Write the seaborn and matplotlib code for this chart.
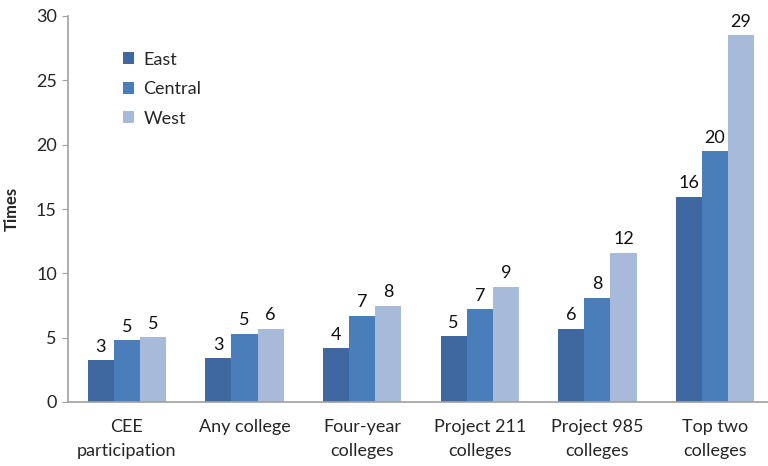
import numpy as np
import pandas as pd
import seaborn as sns
import matplotlib.pyplot as plt

# data
categories = ["CEE\nparticipation", "Any college", "Four-year\ncolleges",
              "Project 211\ncolleges", "Project 985\ncolleges", "Top two\ncolleges"]
regions = ["East", "Central", "West"]
east = [3.23, 3.41, 4.16, 5.12, 5.71, 15.97]
central = [4.8, 5.32, 6.69, 7.19, 8.09, 19.48]
west = [5.04, 5.68, 7.47, 8.97, 11.6, 28.5]
# printed labels (rounded in the source)
east_lbl = ["3", "3", "4", "5", "6", "16"]
central_lbl = ["5", "5", "7", "7", "8", "20"]
west_lbl = ["5", "6", "8", "9", "12", "29"]
colors = ["#3F68A0", "#4A7EBB", "#A8BADA"]

df = pd.DataFrame({
    "category": categories * 3,
    "region": np.repeat(regions, len(categories)),
    "value": east + central + west,
})

sns.set_style("white")
plt.rcParams["font.family"] = ["Lato", "DejaVu Sans"]

fig = plt.figure(figsize=(7.68, 4.66), dpi=100)
ax = fig.add_axes([68 / 768, 64 / 466, 700 / 768, 386 / 466])

sns.barplot(data=df, x="category", y="value", hue="region", order=categories,
            hue_order=regions, palette=colors, width=0.665, gap=0,
            saturation=1, edgecolor="none", ax=ax)

for cont, lbl in zip(ax.containers, [east_lbl, central_lbl, west_lbl]):
    ax.bar_label(cont, labels=lbl, padding=4, fontsize=13, color="#111111")

ax.set_ylim(0, 30)
ax.set_xlim(-0.5, 5.45)
ax.set_yticks([0, 5, 10, 15, 20, 25, 30])
ax.set_ylabel("Times", fontsize=12, fontweight="bold", labelpad=12)
ax.set_xlabel("")

for side in ["top", "right"]:
    ax.spines[side].set_visible(False)
for side in ["left", "bottom"]:
    ax.spines[side].set_color("#A0A0A0")
    ax.spines[side].set_linewidth(1.2)

ax.tick_params(axis="y", left=True, length=4, color="#A0A0A0", labelsize=13, pad=4)
ax.tick_params(axis="x", bottom=False, labelsize=13, pad=9)
for t in ax.get_xticklabels():
    t.set_linespacing(1.6)

leg = ax.legend(loc="upper left", bbox_to_anchor=(0.055, 0.95), frameon=False,
                fontsize=13, handlelength=0.65, handleheight=0.65,
                handletextpad=0.5, labelspacing=0.75)

fig.savefig("out.png", dpi=100)
